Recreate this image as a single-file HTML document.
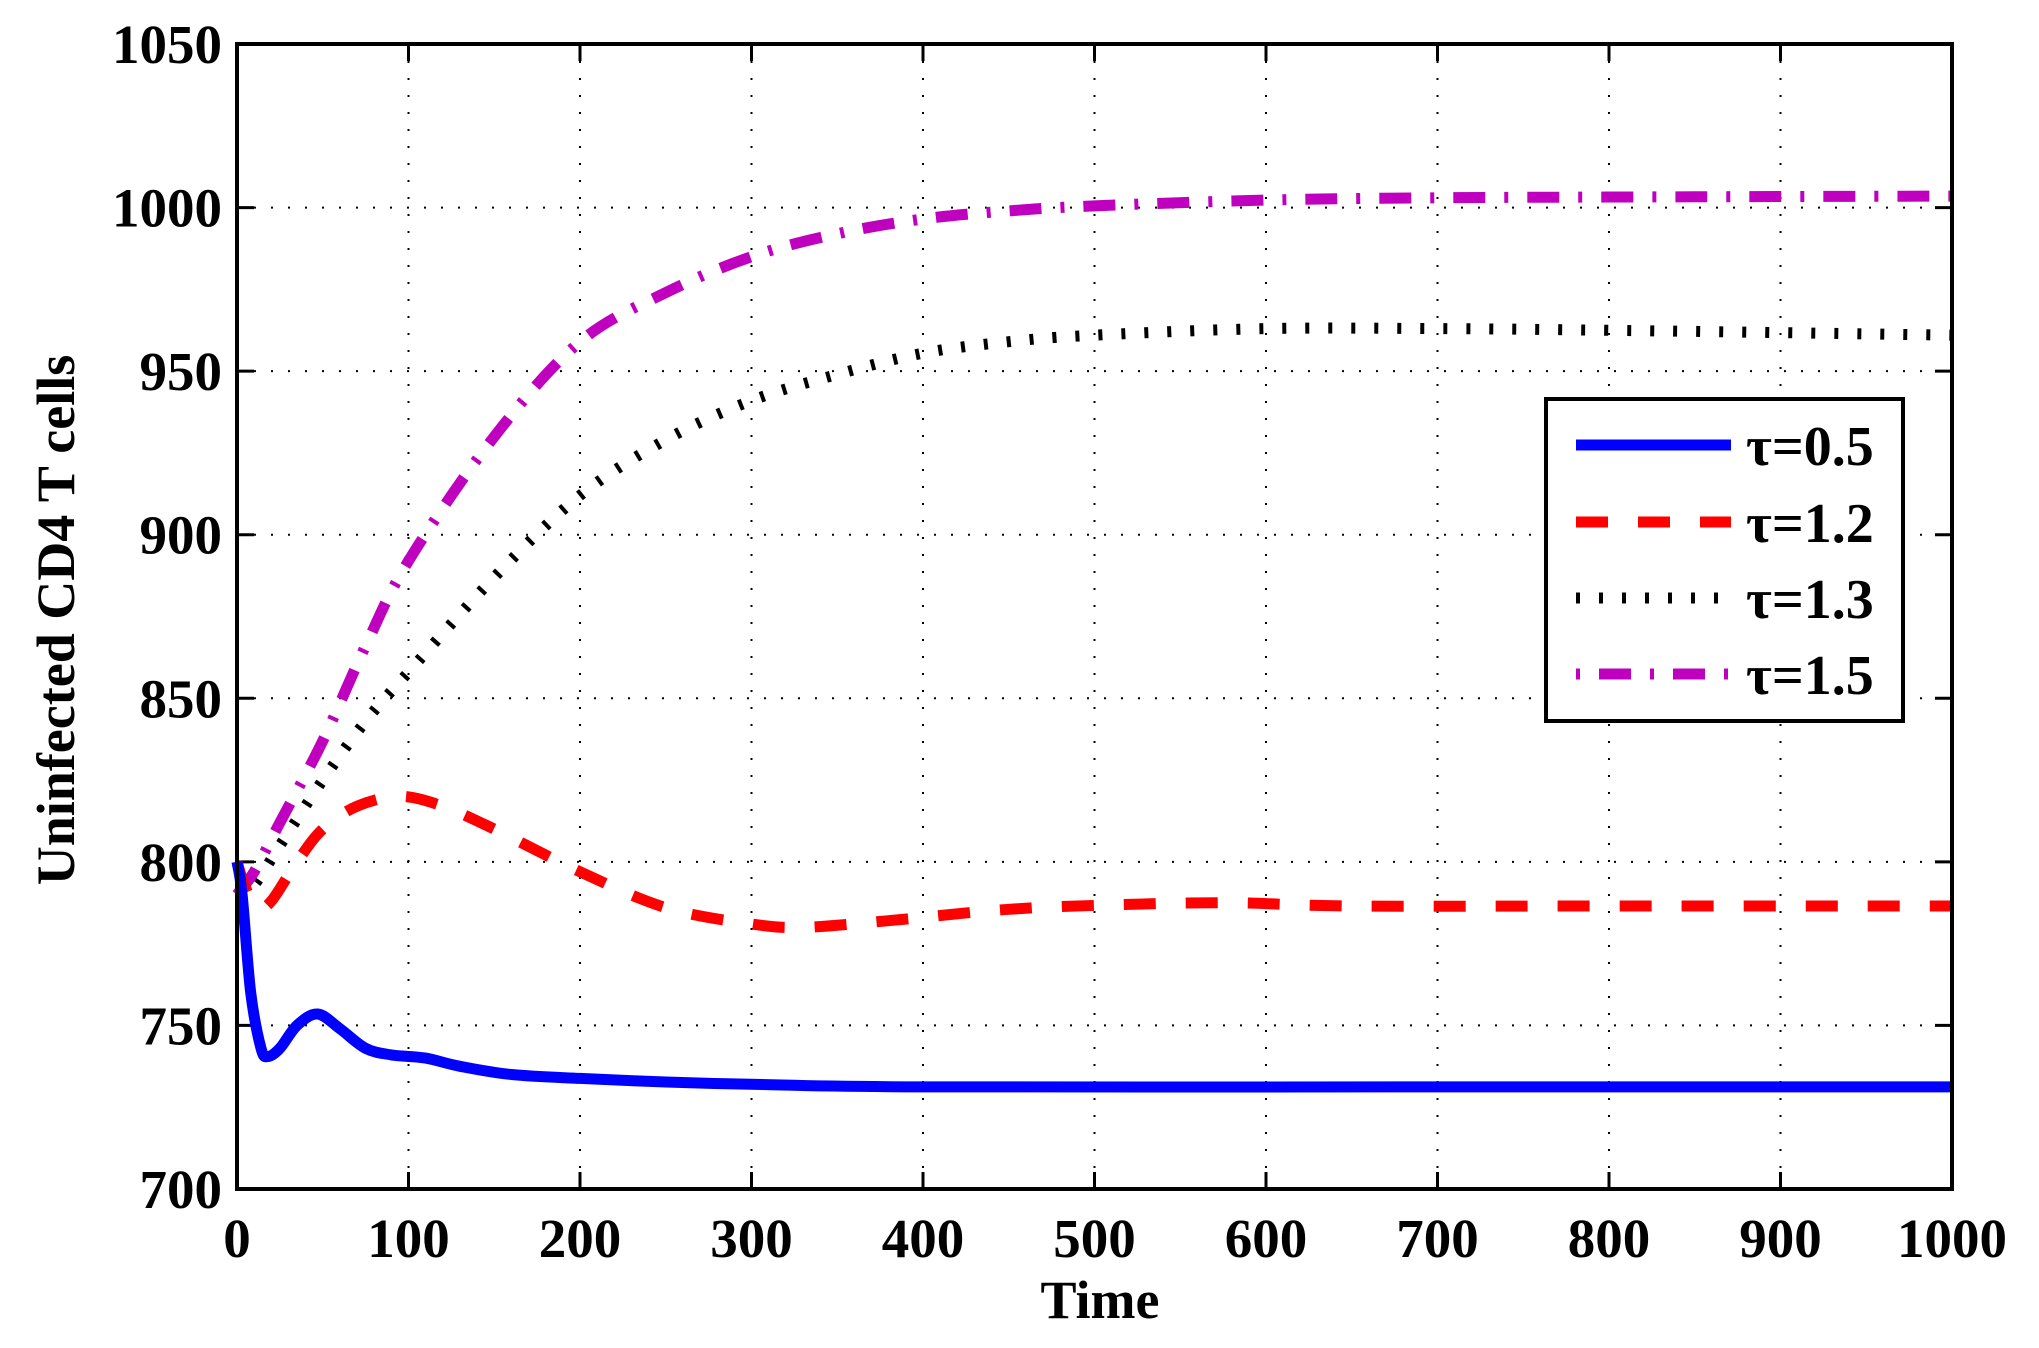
<!DOCTYPE html>
<html><head><meta charset="utf-8"><style>
html,body{margin:0;padding:0;background:#fff;}
svg{display:block;}
text{font-family:"Liberation Serif",serif;font-weight:bold;fill:#000;}
</style></head><body>
<svg id="s" width="2039" height="1348" viewBox="0 0 2039 1348" xmlns="http://www.w3.org/2000/svg">
<rect width="2039" height="1348" fill="#fff"/>
<g id="grid" stroke="#000" stroke-width="2" stroke-dasharray="2 15" fill="none"></g>
<g id="ticks" stroke="#000" stroke-width="3" fill="none"></g>
<g id="lbl" font-size="55"></g>
<g id="series" fill="none"></g>
<rect x="237" y="44" width="1715" height="1145" fill="none" stroke="#000" stroke-width="4"/>
<text x="1100" y="1318" font-size="54" text-anchor="middle">Time</text>
<text transform="translate(74,620) rotate(-90)" font-size="54" text-anchor="middle">Uninfected CD4 T cells</text>
<g>
<rect x="1546" y="399" width="357" height="322" fill="#fff" stroke="#000" stroke-width="4"/>
<line x1="1576" y1="445" x2="1731" y2="445" stroke="#0000ff" stroke-width="11"/>
<line x1="1576" y1="522" x2="1731" y2="522" stroke="#ff0000" stroke-width="11" stroke-dasharray="32 30"/>
<line x1="1576" y1="598" x2="1731" y2="598" stroke="#000" stroke-width="11" stroke-dasharray="4 19"/>
<line x1="1576" y1="674" x2="1731" y2="674" stroke="#bf00bf" stroke-width="11" stroke-dasharray="4 19 32 19"/>
<text x="1746" y="465" font-size="56">τ=0.5</text>
<text x="1746" y="542" font-size="56">τ=1.2</text>
<text x="1746" y="618" font-size="56">τ=1.3</text>
<text x="1746" y="694" font-size="56">τ=1.5</text>
</g>
</svg>
<script>
var NS="http://www.w3.org/2000/svg";
function X(t){return 237+t*1.715;}
function Y(v){return 1189-(v-700)*3.2714;}
function el(p,tag,a){var e=document.createElementNS(NS,tag);for(var k in a)e.setAttribute(k,a[k]);document.getElementById(p).appendChild(e);return e;}
for(var i=1;i<10;i++){var x=X(i*100);el("grid","line",{x1:x,y1:44,x2:x,y2:1189});
 el("ticks","line",{x1:x,y1:1189,x2:x,y2:1172});el("ticks","line",{x1:x,y1:44,x2:x,y2:61});}
for(var v=750;v<1050;v+=50){var y=Y(v);el("grid","line",{x1:237,y1:y,x2:1952,y2:y});
 el("ticks","line",{x1:237,y1:y,x2:254,y2:y});el("ticks","line",{x1:1952,y1:y,x2:1935,y2:y});}
for(var i=0;i<=10;i++){var t=el("lbl","text",{x:X(i*100),y:1257,"text-anchor":"middle"});t.textContent=i*100;}
for(var v=700;v<=1050;v+=50){var t=el("lbl","text",{x:222,y:Y(v)+19,"text-anchor":"end"});t.textContent=v;}
function path(pts){
 var P=pts.map(function(p){return [X(p[0]),Y(p[1])];});
 var d="M"+P[0][0]+","+P[0][1];
 for(var i=0;i<P.length-1;i++){
  var p0=P[Math.max(0,i-1)],p1=P[i],p2=P[i+1],p3=P[Math.min(P.length-1,i+2)];
  var c1=[p1[0]+(p2[0]-p0[0])/6,p1[1]+(p2[1]-p0[1])/6];
  var c2=[p2[0]-(p3[0]-p1[0])/6,p2[1]-(p3[1]-p1[1])/6];
  d+=" C"+c1[0].toFixed(1)+","+c1[1].toFixed(1)+" "+c2[0].toFixed(1)+","+c2[1].toFixed(1)+" "+p2[0].toFixed(1)+","+p2[1].toFixed(1);
 }
 return d;}
var blue=[[0,800],[3,790],[8,760],[14,743],[18,740.5],[25,743],[35,750],[47,753.5],[60,749],[75,743],[90,741],[110,740],[130,737.5],[160,735],[200,733.8],[250,732.7],[300,732],[400,731.2],[700,731.2],[1000,731.2]];
var red=[[0,800],[5,792],[12,786],[20,788],[35,800],[50,810],[70,817],[95,820],[120,817],[150,810],[200,797],[250,786],[300,781],[330,780],[380,782],[450,785.5],[520,787],[580,787.5],[650,786.5],[800,786.5],[1000,786.5]];
var blk=[[0,790],[10,793],[25,805],[50,825],[75,843],[100,858],[150,887],[200,912],[250,929],[300,941],[350,949],[400,955.5],[450,959],[500,961],[600,963],[700,963],[800,962.5],[1000,961]];
var mag=[[0,790],[10,797],[25,812],[50,837],[75,866],[100,892],[150,930],[200,959],[250,974],[300,985],[350,992],[400,996.5],[450,999],[500,1000.5],[600,1002.3],[700,1003],[850,1003.3],[1000,1003.5]];
el("series","path",{d:path(blk),stroke:"#000","stroke-width":11,"stroke-dasharray":"4 19"});
el("series","path",{d:path(mag),stroke:"#bf00bf","stroke-width":11,"stroke-dasharray":"32 19 4 19"});
el("series","path",{d:path(red),stroke:"#ff0000","stroke-width":11,"stroke-dasharray":"32 30"});
el("series","path",{d:path(blue),stroke:"#0000ff","stroke-width":11,"stroke-linejoin":"round"});
</script>
</body></html>
